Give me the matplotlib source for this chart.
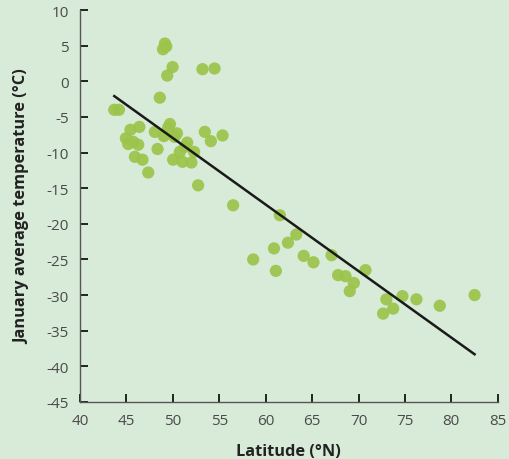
import numpy as np
import matplotlib
matplotlib.use('Agg')
import matplotlib.pyplot as plt

plt.rcParams['font.family'] = ['Open Sans', 'DejaVu Sans']
plt.rcParams['axes.unicode_minus'] = False

# latitude (deg N) and January average temperature (deg C)
latitude = [43.7, 44.2, 45.45, 46.4, 44.95, 45.2, 45.74, 46.28, 45.92, 46.74,
            47.36, 48.07, 48.36, 49.04, 49.69, 49.5, 50.45, 50.2, 51.55, 51.3,
            50.76, 52.3, 50.04, 51.05, 52.0, 53.45, 55.36, 54.1, 52.73, 48.6,
            49.15, 49.3, 48.95, 49.98, 49.4, 53.2, 54.5, 56.5,
            61.53, 63.3, 62.4, 60.9, 58.66, 61.1, 64.1, 65.15, 67.1, 67.8,
            68.6, 69.5, 69.06, 70.75, 73.0, 72.65, 73.73, 74.73, 76.24, 78.75,
            82.5]
jan_temp = [-4.0, -4.0, -6.8, -6.4, -8.0, -8.8, -8.5, -8.9, -10.6, -11.0,
            -12.8, -7.1, -9.5, -7.7, -6.0, -6.5, -7.3, -7.8, -8.6, -9.2,
            -9.9, -9.9, -11.0, -11.3, -11.4, -7.1, -7.6, -8.4, -14.6, -2.3,
            5.3, 4.9, 4.5, 2.0, 0.8, 1.7, 1.8, -17.4,
            -18.8, -21.5, -22.65, -23.45, -25.0, -26.6, -24.5, -25.4, -24.4, -27.2,
            -27.35, -28.3, -29.45, -26.5, -30.6, -32.6, -31.9, -30.15, -30.6, -31.5,
            -30.0]

xticks = [40, 45, 50, 55, 60, 65, 70, 75, 80, 85]
yticks = [10, 5, 0, -5, -10, -15, -20, -25, -30, -35, -40, -45]

bg = '#d8ebd8'

fig = plt.figure(figsize=(5.09, 4.6), dpi=100, facecolor=bg)
ax = fig.add_axes([0.157, 0.124, 0.821, 0.852])
ax.set_facecolor(bg)

ax.scatter(latitude, jan_temp, s=78, color='#9cc44a', alpha=0.92,
           edgecolors='none', zorder=2)

# least squares trend line over the data range
lat = np.array(latitude)
k, b = np.polyfit(lat, np.array(jan_temp), 1)
xs = np.array([lat.min(), lat.max()])
ax.plot(xs, k * xs + b, color='#1a1a1a', linewidth=1.8, zorder=3)

ax.set_xlim(40, 85)
ax.set_ylim(-45, 10)
ax.set_xticks(xticks)
ax.set_yticks(yticks)

for s in ['top', 'right']:
    ax.spines[s].set_visible(False)
for s in ['left', 'bottom']:
    ax.spines[s].set_color('#555555')
    ax.spines[s].set_linewidth(1.0)

ax.tick_params(direction='in', length=5.5, width=1.4, color='#222222',
               labelsize=11, labelcolor='#4a4a4a')
ax.tick_params(axis='y', pad=8)
ax.tick_params(axis='x', pad=8)

ax.set_xlabel('Latitude (°N)', fontsize=11.8, fontweight='bold',
              color='#222222', labelpad=11)
ax.set_ylabel('January average temperature (°C)', fontsize=11.8,
              fontweight='bold', color='#222222', labelpad=12)

fig.savefig('out.png', dpi=100, facecolor=bg)
